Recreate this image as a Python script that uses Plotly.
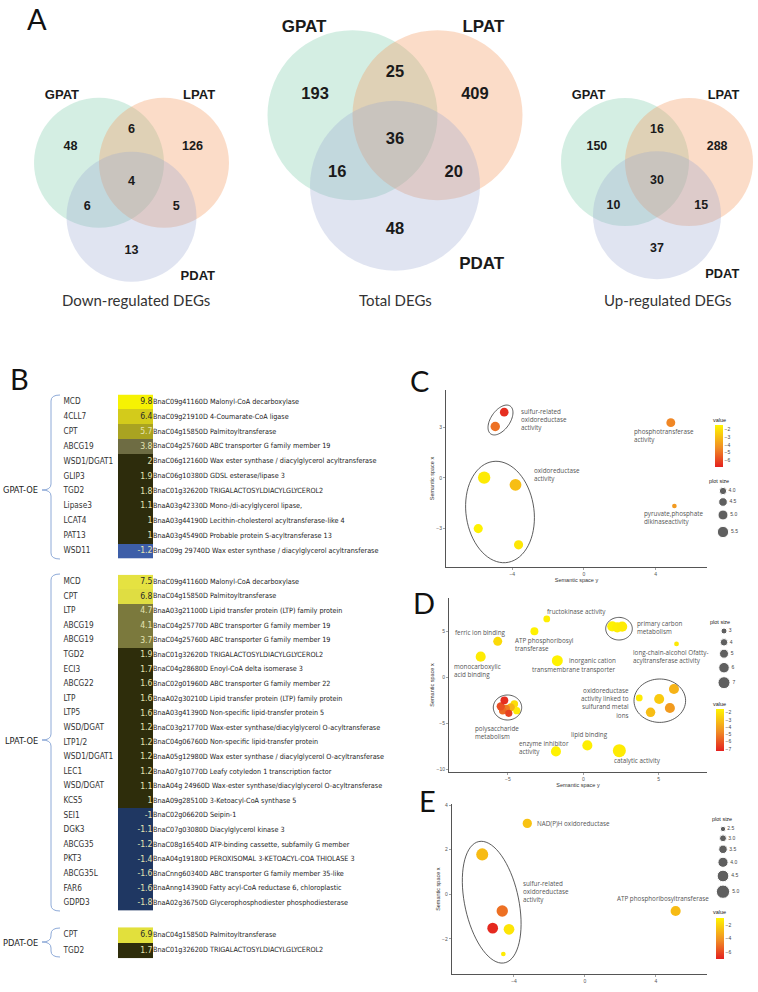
import numpy as np
import plotly.graph_objects as go

W, H = 758, 992

# ======================= DATA =======================
# ---- Panel A (Venn counts) ----
venn_sets = ["GPAT", "LPAT", "PDAT"]
venn_titles = ["Down-regulated DEGs", "Total DEGs", "Up-regulated DEGs"]
# region order: GPAT only, LPAT only, PDAT only, GPAT&LPAT, GPAT&PDAT, LPAT&PDAT, all three
down_counts = [48, 126, 13, 6, 6, 5, 4]
total_counts = [193, 409, 48, 25, 16, 20, 36]
up_counts = [150, 288, 37, 16, 10, 15, 30]

# ---- Panel B (fold change tables) ----
gpat_genes = ["MCD", "4CLL7", "CPT", "ABCG19", "WSD1/DGAT1", "GLIP3", "TGD2", "Lipase3", "LCAT4", "PAT13", "WSD11"]
gpat_fc = [9.8, 6.4, 5.7, 3.8, 2, 1.9, 1.8, 1.1, 1, 1, -1.2]
gpat_desc = [
    "BnaC09g41160D Malonyl-CoA decarboxylase",
    "BnaC09g21910D 4-Coumarate-CoA ligase",
    "BnaC04g15850D Palmitoyltransferase",
    "BnaC04g25760D ABC transporter G family member 19",
    "BnaC06g12160D Wax ester synthase / diacylglycerol acyltransferase",
    "BnaC06g10380D GDSL esterase/lipase 3",
    "BnaC01g32620D TRIGALACTOSYLDIACYLGLYCEROL2",
    "BnaA03g42330D Mono-/di-acylglycerol lipase,",
    "BnaA03g44190D Lecithin-cholesterol acyltransferase-like 4",
    "BnaA03g45490D Probable protein S-acyltransferase 13",
    "BnaC09g 29740D Wax ester synthase / diacylglycerol acyltransferase",
]
lpat_genes = ["MCD", "CPT", "LTP", "ABCG19", "ABCG19", "TGD2", "ECI3", "ABCG22", "LTP", "LTP5",
              "WSD/DGAT", "LTP1/2", "WSD1/DGAT1", "LEC1", "WSD/DGAT", "KCS5", "SEI1", "DGK3",
              "ABCG35", "PKT3", "ABCG35L", "FAR6", "GDPD3"]
lpat_fc = [7.5, 6.8, 4.7, 4.1, 3.7, 1.9, 1.7, 1.6, 1.6, 1.6, 1.2, 1.2, 1.2, 1.2, 1.1, 1,
           -1, -1.1, -1.2, -1.4, -1.6, -1.6, -1.8]
lpat_desc = [
    "BnaC09g41160D Malonyl-CoA decarboxylase",
    "BnaC04g15850D Palmitoyltransferase",
    "BnaA03g21100D Lipid transfer protein (LTP) family protein",
    "BnaC04g25770D ABC transporter G family member 19",
    "BnaC04g25760D ABC transporter G family member 19",
    "BnaC01g32620D TRIGALACTOSYLDIACYLGLYCEROL2",
    "BnaC04g28680D Enoyl-CoA delta isomerase 3",
    "BnaC02g01960D ABC transporter G family member 22",
    "BnaA02g30210D Lipid transfer protein (LTP) family protein",
    "BnaA03g41390D Non-specific lipid-transfer protein 5",
    "BnaC03g21770D Wax-ester synthase/diacylglycerol O-acyltransferase",
    "BnaC04g06760D Non-specific lipid-transfer protein",
    "BnaA05g12980D Wax ester synthase / diacylglycerol O-acyltransferase",
    "BnaA07g10770D Leafy cotyledon 1 transcription factor",
    "BnaA04g 24960D Wax-ester synthase/diacylglycerol O-acyltransferase",
    "BnaA09g28510D 3-Ketoacyl-CoA synthase 5",
    "BnaC02g06620D Seipin-1",
    "BnaC07g03080D Diacylglycerol kinase 3",
    "BnaC08g16540D ATP-binding cassette, subfamily G member",
    "BnaA04g19180D PEROXISOMAL 3-KETOACYL-COA THIOLASE 3",
    "BnaCnng60340D ABC transporter G family member 35-like",
    "BnaAnng14390D Fatty acyl-CoA reductase 6, chloroplastic",
    "BnaA02g36750D Glycerophosphodiester phosphodiesterase",
]
pdat_genes = ["CPT", "TGD2"]
pdat_fc = [6.9, 1.7]
pdat_desc = ["BnaC04g15850D Palmitoyltransferase", "BnaC01g32620D TRIGALACTOSYLDIACYLGLYCEROL2"]

# ---- Panel C (semantic space) ----
c_x = [-4.45, -4.95, -5.57, -3.82, -5.9, -3.65, 4.85, 5.05]
c_y = [3.89, 3.04, 0.02, -0.41, -3.0, -3.96, 3.27, -1.66]
c_value = [-6.5, -5.0, -1.8, -3.0, -1.6, -1.9, -4.5, -4.0]
c_plotsize = [4.5, 4.8, 5.9, 5.7, 4.7, 4.7, 4.6, 3.0]
c_size_breaks = [4.0, 4.5, 5.0, 5.5]
c_value_ticks = [-2, -3, -4, -5, -6]

# ---- Panel D ----
d_x = [-2.42, -3.24, -5.67, -6.8, -1.72, 1.92, 2.25, 2.58, 6.18,
       -4.41, -4.57, -4.81, -5.12, -5.34, -5.47, -4.94, -5.23,
       3.71, 5.03, 6.01, 5.74, 4.46, 0.27, -1.81, 2.39]
d_y = [6.33, 4.98, 3.89, 2.23, 1.79, 5.52, 5.41, 5.49, 3.61,
       -3.64, -2.92, -3.28, -3.42, -3.64, -3.17, -3.93, -2.52,
       -2.26, -2.37, -1.28, -3.35, -3.82, -7.41, -8.06, -7.99]
d_value = [-1.7, -1.6, -2.3, -1.8, -1.6, -1.6, -1.7, -1.8, -1.9,
           -1.8, -2.2, -3.5, -5.0, -5.5, -6.2, -6.5, -7.0,
           -1.8, -2.8, -3.5, -4.2, -3.2, -1.7, -1.6, -1.8]
d_plotsize = [3.5, 4.3, 5.0, 5.7, 6.3, 5.7, 5.7, 5.7, 2.2,
              3.8, 4.0, 4.5, 4.3, 4.0, 4.5, 3.8, 4.2,
              3.5, 5.7, 5.7, 5.7, 5.3, 5.7, 5.7, 7.7]
d_size_breaks = [3, 4, 5, 6, 7]
d_value_ticks = [-2, -3, -4, -5, -6, -7]

# ---- Panel E ----
e_x = [-3.25, -5.79, -4.66, -5.2, -4.28, -4.6, 5.11]
e_y = [3.18, 1.79, -0.75, -1.52, -1.57, -2.68, -0.75]
e_value = [-2.6, -2.8, -5.0, -6.8, -1.5, -1.3, -2.8]
e_plotsize = [3.75, 4.6, 4.4, 4.2, 4.2, 2.3, 4.0]
e_size_breaks = [2.5, 3.0, 3.5, 4.0, 4.5, 5.0]
e_value_ticks = [-2, -4, -6]

# ======================= STYLE =======================
COND = "DejaVu Sans Condensed, Liberation Sans Narrow, Liberation Sans, sans-serif"
SANS = "Liberation Sans, Arial, sans-serif"
HUM = "Lato, Open Sans, sans-serif"
LBL = "Open Sans, DejaVu Sans, sans-serif"
RY = [[0, "#e4211f"], [0.45, "#f08b25"], [1, "#fff500"]]


def fx(p):
    return p / W


def fy(p):
    return 1 - p / H


fig = go.Figure()
shapes = []
annotations = []


def note(text, px, py, font, xanchor="center", yanchor="middle", align="center"):
    annotations.append(dict(x=fx(px), y=fy(py), xref="paper", yref="paper", text=text,
                            showarrow=False, xanchor=xanchor, yanchor=yanchor, align=align,
                            font=font))


# pixel overlay axis (x / y)
layout_axes = {
    "xaxis": dict(domain=[0, 1], range=[0, W], visible=False, fixedrange=True),
    "yaxis": dict(domain=[0, 1], range=[H, 0], visible=False, fixedrange=True),
}

# ======================= PANEL A =======================
venn_geo = [(131.5, 181, 65), (395, 139, 85), (657, 180, 64)]
venn_title_x = [136, 395, 668]
circle_off = [(-0.5, -0.28), (0.5, -0.28), (0.0, 0.55)]
circle_fill = ["rgba(112,198,162,0.30)", "rgba(244,155,98,0.35)", "rgba(152,165,208,0.30)"]
region_off = [(-0.94, -0.52), (0.94, -0.52), (0.0, 1.07), (0.0, -0.78),
              (-0.68, 0.40), (0.69, 0.40), (0.0, 0.01)]
setlabel_off = [(-1.07, -1.31), (1.04, -1.31), (1.02, 1.48)]

for (cx, cy, r), counts, title, tx in zip(venn_geo, [down_counts, total_counts, up_counts],
                                          venn_titles, venn_title_x):
    for (ox, oy), col in zip(circle_off, circle_fill):
        shapes.append(dict(type="circle", xref="x", yref="y", layer="below",
                           x0=cx + ox * r - r, x1=cx + ox * r + r,
                           y0=cy + oy * r - r, y1=cy + oy * r + r,
                           fillcolor=col, line=dict(width=0)))
    fig.add_trace(go.Scatter(
        x=[cx + ox * r for ox, oy in region_off], y=[cy + oy * r for ox, oy in region_off],
        text=[str(c) for c in counts], mode="text", xaxis="x", yaxis="y",
        textfont=dict(family=SANS, size=r * 0.194, color="#1a1a1a", weight="bold"),
        hoverinfo="skip", showlegend=False, cliponaxis=False))
    fig.add_trace(go.Scatter(
        x=[cx + ox * r for ox, oy in setlabel_off], y=[cy + oy * r for ox, oy in setlabel_off],
        text=venn_sets, mode="text", xaxis="x", yaxis="y",
        textfont=dict(family=SANS, size=r * 0.2, color="#1a1a1a", weight="bold"),
        hoverinfo="skip", showlegend=False, cliponaxis=False))
    note(title, tx, 300, dict(family=HUM, size=15, color="#333"))

# panel letters
for letter, (lx, ly) in zip("ABCDE", [(37, 18), (19, 378), (419, 380), (424, 602), (427, 800)]):
    note(letter, lx, ly, dict(family=HUM, size=29, color="#111"))

# ======================= PANEL B =======================
def make_scale(stops, zmin, zmax):
    return [[(v - zmin) / (zmax - zmin), c] for v, c in stops]


blocks = [
    dict(genes=gpat_genes, fc=gpat_fc, desc=gpat_desc, label="GPAT-OE",
         first=402, step=14.9, brace=(395, 559, 490),
         stops=[(-1.2, "#3d5ea8"), (-0.01, "#3d5ea8"), (0, "#2d2c0c"), (2.0, "#2d2c0c"),
                (3.8, "#6e6c43"), (5.7, "#a9a321"), (6.4, "#d3cb1b"), (9.8, "#f6f203")]),
    dict(genes=lpat_genes, fc=lpat_fc, desc=lpat_desc, label="LPAT-OE",
         first=582, step=14.6, brace=(574, 911, 740),
         stops=[(-1.8, "#1f3762"), (-0.01, "#1f3762"), (0, "#2e2d0b"), (1.9, "#2e2d0b"),
                (3.7, "#7b793d"), (4.7, "#7b793d"), (6.8, "#dfdd42"), (7.5, "#e5e241")]),
    dict(genes=pdat_genes, fc=pdat_fc, desc=pdat_desc, label="PDAT-OE",
         first=935, step=15.5, brace=(928, 957, 942),
         stops=[(1.7, "#2e2d0b"), (6.9, "#e2e03c")]),
]

for i, b in enumerate(blocks):
    k = i + 2
    n = len(b["genes"])
    top = b["first"] - b["step"] / 2
    bot = b["first"] + b["step"] * (n - 0.5)
    xa, ya = f"x{k}", f"y{k}"
    layout_axes[f"xaxis{k}"] = dict(domain=[0, 1], range=[0, W], visible=False, anchor=ya, fixedrange=True)
    layout_axes[f"yaxis{k}"] = dict(domain=[fy(bot), fy(top)], range=[n - 0.5, -0.5],
                                    visible=False, anchor=xa, fixedrange=True)
    zmin, zmax = b["stops"][0][0], b["stops"][-1][0]
    fig.add_trace(go.Heatmap(z=[[v] for v in b["fc"]], x=[118, 153], y=list(range(n)),
                             colorscale=make_scale(b["stops"], zmin, zmax), zmin=zmin, zmax=zmax,
                             showscale=False, xaxis=xa, yaxis=ya, hoverinfo="skip"))
    fig.add_trace(go.Scatter(x=[152.5] * n, y=list(range(n)), text=[f"{v:g}" for v in b["fc"]],
                             mode="text", textposition="middle left", xaxis=xa, yaxis=ya,
                             textfont=dict(family=COND, size=8.6,
                                           color=["#2a2a2a" if v >= 6 else "#e4e4b4" for v in b["fc"]]),
                             hoverinfo="skip", showlegend=False, cliponaxis=False))
    fig.add_trace(go.Scatter(x=[63.5] * n, y=list(range(n)), text=b["genes"],
                             mode="text", textposition="middle right", xaxis=xa, yaxis=ya,
                             textfont=dict(family=COND, size=8.2, color="#333"),
                             hoverinfo="skip", showlegend=False, cliponaxis=False))
    fig.add_trace(go.Scatter(x=[153] * n, y=list(range(n)), text=b["desc"],
                             mode="text", textposition="middle right", xaxis=xa, yaxis=ya,
                             textfont=dict(family=COND, size=7.2, color="#222"),
                             hoverinfo="skip", showlegend=False, cliponaxis=False))
    yt, yb, ym = b["brace"]
    xr, xv, xt, kk = 60, 51, 42, 6
    path = (f"M {xr} {yt} Q {xv} {yt} {xv} {yt + kk} L {xv} {ym - kk} Q {xv} {ym} {xt} {ym} "
            f"Q {xv} {ym} {xv} {ym + kk} L {xv} {yb - kk} Q {xv} {yb} {xr} {yb}")
    shapes.append(dict(type="path", xref="x", yref="y", path=path,
                       line=dict(color="#8eaad8", width=1)))
    note(b["label"], 40, ym, dict(family=COND, size=9.2, color="#222"), xanchor="right")

# ======================= PANELS C, D, E =======================
def ellipse_path(cx, cy, a, b, ang_deg, n=72):
    t = np.linspace(0, 2 * np.pi, n)
    ang = np.radians(ang_deg)
    ux, uy = np.cos(ang), -np.sin(ang)
    vx, vy = np.sin(ang), np.cos(ang)
    xs = cx + a * np.cos(t) * ux + b * np.sin(t) * vx
    ys = cy + a * np.cos(t) * uy + b * np.sin(t) * vy
    p = f"M {xs[0]:.2f} {ys[0]:.2f} " + " ".join(f"L {x:.2f} {y:.2f}" for x, y in zip(xs[1:], ys[1:]))
    return p + " Z"


panels = [
    dict(k=5, x=c_x, y=c_y, v=c_value, s=c_plotsize, breaks=c_size_breaks, vt=c_value_ticks,
         dom=(446, 707, 390, 567), xr=(-7.7, 6.87), yr=(-5.27, 5.2), xt=[-4, 0, 4], yt=[-3, 0, 3],
         diam=lambda s: 7.3 + (s - 4.0) * 2.67, crange=(-6.8, -1.5),
         cbar=(715, 446, 42), vtitle=(719, 420), stitle=(719, 481), legx=723, legy=[491, 502, 515, 532],
         xtitle=True,
         ellipses=[(500.5, 420, 17, 9.5, 55), (500, 512, 51, 34, 98)],
         labels=[("sulfur-related<br>oxidoreductase<br>activity", 519, 420, "left"),
                 ("oxidoreductase<br>activity", 532, 475, "left"),
                 ("phosphotransferase<br>activity", 632, 435.5, "left"),
                 ("pyruvate,phosphate<br>dikinaseactivity", 642, 517.5, "left")]),
    dict(k=6, x=d_x, y=d_y, v=d_value, s=d_plotsize, breaks=d_size_breaks, vt=d_value_ticks,
         dom=(449, 707, 598, 772), xr=(-8.9, 8.2), yr=(-10.3, 8.6), xt=[-5, 0, 5], yt=[-10, -5, 0, 5],
         diam=lambda s: 6 + (s - 3) * 1.5, crange=(-7.3, -1.5),
         cbar=(716, 730, 42), vtitle=(719, 704), stitle=(720, 622), legx=724,
         legy=[631, 642.3, 653.7, 667.7, 682.7], xtitle=True,
         ellipses=[(619, 628.7, 13.3, 11.3, 0), (507.5, 707.5, 14.2, 12.5, 0), (659.8, 700.7, 25.8, 21.7, 0)],
         labels=[("fructokinase activity", 545, 611.7, "left"),
                 ("ferric ion binding", 453.3, 632.3, "left"),
                 ("ATP phosphoribosyl<br>transferase", 513.3, 644.3, "left"),
                 ("primary carbon<br>metabolism", 635, 627, "left"),
                 ("long-chain-alcohol Ofatty-<br>acyltransferase activity", 630.7, 656.7, "left"),
                 ("monocarboxylic<br>acid binding", 451.7, 670.3, "left"),
                 ("inorganic cation", 567.3, 660, "left"),
                 ("transmembrane transporter", 530, 669.3, "left"),
                 ("oxidoreductase<br>activity linked to<br>sulfurand metal<br>ions", 631, 702.5, "right"),
                 ("polysaccharide<br>metabolism", 473.3, 732, "left"),
                 ("lipid binding", 569, 734, "left"),
                 ("enzyme inhibitor<br>activity", 516.7, 747, "left"),
                 ("catalytic activity", 611.7, 760, "left")]),
    dict(k=7, x=e_x, y=e_y, v=e_value, s=e_plotsize, breaks=e_size_breaks, vt=e_value_ticks,
         dom=(451.7, 706.7, 804, 974.3), xr=(-7.51, 6.86), yr=(-3.59, 4.05), xt=[-4, 0, 4], yt=[-2, 0, 2, 4],
         diam=lambda s: 5.3 + (s - 2.5) * 3.2, crange=(-7.0, -1.0),
         cbar=(716, 938.5, 41), vtitle=(719, 912), stitle=(722, 819), legx=723,
         legy=[829, 838.3, 849.3, 862.3, 876, 891.7], xtitle=False,
         ellipses=[(491.7, 902.2, 62, 27, 102)],
         labels=[("NAD(P)H oxidoreductase", 535, 823.7, "left"),
                 ("sulfur-related<br>oxidoreductase<br>activity", 521, 891, "left"),
                 ("ATP phosphoribosyltransferase", 615, 898.3, "left")]),
]

for p in panels:
    k = p["k"]
    xa, ya = f"x{k}", f"y{k}"
    l, r, t, b = p["dom"]
    axis_common = dict(showline=True, linecolor="#555", linewidth=1, showgrid=False, zeroline=False,
                       ticks="outside", ticklen=2, tickcolor="#666", tickwidth=0.6,
                       tickfont=dict(family=SANS, size=5, color="#555"), fixedrange=True,
                       automargin=False)
    layout_axes[f"xaxis{k}"] = dict(domain=[fx(l), fx(r)], range=list(p["xr"]), tickvals=p["xt"],
                                    anchor=ya,
                                    title=dict(text="Semantic space y" if p["xtitle"] else "",
                                               font=dict(family=SANS, size=5.5, color="#333"), standoff=1),
                                    **axis_common)
    layout_axes[f"yaxis{k}"] = dict(domain=[fy(b), fy(t)], range=list(p["yr"]), tickvals=p["yt"],
                                    anchor=xa,
                                    title=dict(text="Semantic space x",
                                               font=dict(family=SANS, size=5.5, color="#333"), standoff=1),
                                    **axis_common)
    cbx, cby, cblen = p["cbar"]
    fig.add_trace(go.Scatter(
        x=p["x"], y=p["y"], mode="markers", xaxis=xa, yaxis=ya, hoverinfo="skip", showlegend=False,
        marker=dict(size=[p["diam"](s) for s in p["s"]], color=p["v"], colorscale=RY,
                    cmin=p["crange"][0], cmax=p["crange"][1], opacity=1, line=dict(width=0),
                    colorbar=dict(x=fx(cbx), xanchor="left", y=fy(cby), yanchor="middle",
                                  len=cblen, lenmode="pixels", thickness=8, thicknessmode="pixels",
                                  xpad=0, ypad=0, outlinewidth=0, ticks="", tickvals=p["vt"],
                                  tickfont=dict(family=SANS, size=5, color="#444"),
                                  title=dict(text=""))),
        cliponaxis=False))
    # size legend keys
    fig.add_trace(go.Scatter(
        x=[p["legx"]] * len(p["breaks"]), y=p["legy"], mode="markers+text", xaxis="x", yaxis="y",
        marker=dict(size=[p["diam"](s) for s in p["breaks"]], color="#1c1c1c"),
        text=[f"{s:g}" if k == 6 else f"{s:.1f}" for s in p["breaks"]],
        textposition="middle right", textfont=dict(family=SANS, size=5, color="#444"),
        hoverinfo="skip", showlegend=False, cliponaxis=False))
    note("plot size", p["stitle"][0], p["stitle"][1], dict(family=SANS, size=5.5, color="#222"))
    note("value", p["vtitle"][0], p["vtitle"][1], dict(family=SANS, size=5.5, color="#222"))
    for (ecx, ecy, ea, eb, eang) in p["ellipses"]:
        shapes.append(dict(type="path", xref="x", yref="y", path=ellipse_path(ecx, ecy, ea, eb, eang),
                           line=dict(color="#333", width=0.8)))
    for txt, lx, ly, anc in p["labels"]:
        note(txt, lx, ly, dict(family=LBL, size=6.3, color="#555"), xanchor=anc, align=anc)

fig.update_layout(
    width=W, height=H, margin=dict(l=0, r=0, t=0, b=0),
    paper_bgcolor="white", plot_bgcolor="rgba(0,0,0,0)",
    showlegend=False, shapes=shapes, annotations=annotations,
    **layout_axes,
)

fig.write_html("out.html", config={"displayModeBar": False, "staticPlot": True},
               post_script="document.body.style.margin='0';document.body.style.overflow='hidden';")
